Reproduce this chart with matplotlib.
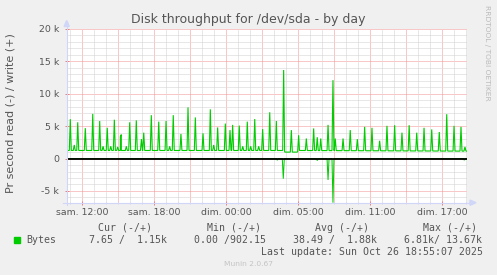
import numpy as np
import matplotlib
matplotlib.use("Agg")
import matplotlib.pyplot as plt
from matplotlib.lines import Line2D
from matplotlib.patches import Polygon, Rectangle

plt.rcParams["lines.scale_dashes"] = False

# ---------------- data (hours of real elapsed time from Saturday 00:00) -------------
write_peak_h = [11.00, 11.33, 11.62, 12.25, 12.87, 13.45, 13.73, 14.08, 14.37, 14.67,
                14.95, 15.17, 15.25, 15.67, 15.95, 16.50, 16.93, 17.12, 17.75, 18.37,
                18.98, 19.28, 19.58, 20.22, 20.81, 21.42, 22.06, 22.67, 22.95, 23.28,
                23.92, 24.31, 24.53, 25.08, 25.37, 25.75, 26.03, 26.37, 26.70, 27.03,
                27.62, 28.17, 28.78, 29.42, 30.03, 30.67, 31.28, 31.58, 31.87, 32.48,
                32.89, 33.08, 33.73, 34.33, 34.92, 35.53, 36.14, 36.78, 37.39, 38.03,
                38.64, 39.24, 39.87, 40.48, 41.12, 41.75, 42.37, 42.98, 43.56, 43.89]
write_peak_v = [6080, 2100, 5600, 4700, 6900, 5800, 1900, 4750, 1900, 6000,
                1800, 3400, 3700, 1900, 5600, 5900, 3000, 4000, 6700, 5700,
                5800, 1900, 6700, 3800, 7900, 6350, 3900, 7600, 2100, 4800,
                5400, 4400, 5200, 5100, 1900, 5700, 1900, 6100, 1900, 4550,
                7150, 5800, 13670, 4400, 3600, 3100, 4650, 3300, 3100, 5200,
                12100, 3100, 3100, 4400, 3000, 4900, 4750, 2750, 5050, 5150,
                4000, 5150, 4000, 4750, 4500, 4100, 6850, 5050, 4900, 1800]
write_base_h = [10.70, 28.70, 28.90, 29.90, 30.10, 44.06]
write_base_v = [1250, 1250, 1000, 1000, 1250, 1150]

read_peak_h = [28.25, 28.75, 31.58, 32.48, 32.89, 43.83]
read_peak_v = [250, 3100, 300, 3300, 6810, 250]

x_label_h = [12, 18, 24, 30, 36, 42]
x_labels = ["sam. 12:00", "sam. 18:00", "dim. 00:00", "dim. 05:00", "dim. 11:00", "dim. 17:00"]
y_ticks = [-5000, 0, 5000, 10000, 15000, 20000]
y_labels = ["-5 k", "0", "5 k", "10 k", "15 k", "20 k"]

T0, T1 = 10.70, 44.06
YMIN, YMAX = -6810, 20000

# ---------------- figure ----------------
W, H = 497, 275
fig = plt.figure(figsize=(W / 100, H / 100), dpi=100, facecolor="#F0F0F0")
L, R, TOP, BOT = 66.7, 467.0, 29.0, 202.7
ax = fig.add_axes([L / W, 1 - BOT / H, (R - L) / W, (BOT - TOP) / H])
ax.set_facecolor("white")
ax.set_xlim(T0, T1)
ax.set_ylim(YMIN, YMAX)

minor_c = "#D0D0D0"
major_c = "#F29090"
dots = (0, (0.72, 0.72))
for h in np.arange(11, 45):
    ax.axvline(h, color=minor_c, lw=0.72, ls=dots, zorder=0)
for v in np.arange(-6000, 20001, 1000):
    ax.axhline(v, color=minor_c, lw=0.72, ls=dots, zorder=0)
for h in np.arange(12, 45, 3):
    ax.axvline(h, color="white", lw=0.9, zorder=0.4)
    ax.axvline(h, color=major_c, lw=0.72, ls=dots, zorder=0.5)
for v in y_ticks:
    ax.axhline(v, color="white", lw=0.9, zorder=0.4)
    ax.axhline(v, color=major_c, lw=0.72, ls=dots, zorder=0.5)


def build(base_h, base_v, peak_h, peak_v, sign=1):
    dt = 1 / 12
    pts = list(zip(base_h, base_v))
    for h, v in zip(peak_h, peak_v):
        for hh in (h - dt, h + dt):
            pts.append((hh, float(np.interp(hh, base_h, base_v))))
        pts.append((h, v))
    pts.sort()
    t = np.array([p[0] for p in pts])
    y = np.array([p[1] for p in pts]) * sign
    return t, y


green = "#00CC00"
tr, yr = build([T0, T1], [0, 0], read_peak_h, read_peak_v, sign=-1)
ax.plot(tr, yr, color=green, lw=0.72, zorder=3, solid_joinstyle="miter")
ax.axhline(0, color="black", lw=1.3, zorder=4)
tw, yw = build(write_base_h, write_base_v, write_peak_h, write_peak_v)
ax.plot(tw, yw, color=green, lw=0.8, zorder=5, solid_joinstyle="miter")

for s in ax.spines.values():
    s.set_visible(False)

txt = "#555555"
ax.set_xticks(x_label_h)
ax.set_xticklabels(x_labels, fontsize=6.75, color=txt)
ax.set_xticks(np.arange(11, 45), minor=True)
ax.tick_params(axis="x", which="major", length=2.5, width=0.72, color="#E88080",
               direction="inout", pad=2.6)
ax.tick_params(axis="x", which="minor", length=2.0, width=0.72, color="#CFD6F8",
               direction="inout")
ax.set_yticks(y_ticks)
ax.set_yticklabels(y_labels, fontsize=6.75, color=txt)
ax.tick_params(axis="y", which="major", length=2.5, width=0.72, color="#E88080",
               direction="inout", pad=4.2)

# axes lines with arrows (rrdtool style)
axc = "#CFD6F8"
fig.add_artist(Line2D([L / W, L / W], [1 - 205 / H, 1 - 22 / H], color=axc, lw=0.8))
fig.add_artist(Line2D([63 / W, 472 / W], [1 - BOT / H, 1 - BOT / H], color=axc, lw=0.8))
fig.add_artist(Polygon([[(L - 2.6) / W, 1 - 26.5 / H], [(L + 2.6) / W, 1 - 26.5 / H],
                        [L / W, 1 - 20.5 / H]], closed=True, color=axc, transform=fig.transFigure))
fig.add_artist(Polygon([[470 / W, 1 - (BOT - 2.6) / H], [470 / W, 1 - (BOT + 2.6) / H],
                        [476 / W, 1 - BOT / H]], closed=True, color=axc, transform=fig.transFigure))

# titles
fig.text(248 / W, 1 - 19 / H, "Disk throughput for /dev/sda - by day", ha="center",
         va="center", fontsize=9, color=txt)
fig.text(11 / W, 1 - 113.5 / H, "Pr second read (-) / write (+)", rotation=90,
         ha="center", va="center", fontsize=8, color=txt)
fig.text(487.5 / W, 1 - 53 / H, "RRDTOOL / TOBI OETIKER", rotation=270, ha="center",
         va="center", fontsize=5.4, color="#BBBBBB")

# legend
mono = dict(family="DejaVu Sans Mono", fontsize=7.1, color=txt, va="center", ha="left")
row1, row2, row3 = 227.7, 239.7, 251.7
for x, s in [(98, "Cur (-/+)"), (207, "Min (-/+)"), (315, "Avg (-/+)"), (423, "Max (-/+)")]:
    fig.text(x / W, 1 - row1 / H, s, **mono)
fig.patches.append(Rectangle((14 / W, 1 - 242.7 / H), 5.6 / W, 5.4 / H, color=green,
                             transform=fig.transFigure, figure=fig))
fig.text(26 / W, 1 - row2 / H, "Bytes", **mono)
for x, s in [(89, "7.65 /  1.15k"), (194, "0.00 /902.15"), (293, "38.49 /  1.88k"),
             (404, "6.81k/ 13.67k")]:
    fig.text(x / W, 1 - row2 / H, s, **mono)
fig.text(483 / W, 1 - row3 / H, "Last update: Sun Oct 26 18:55:07 2025",
         **{**mono, "ha": "right"})
fig.text(248 / W, 1 - 263.7 / H, "Munin 2.0.67", ha="center", va="center",
         fontsize=5.4, color="#C4C4C4")

fig.savefig("out.png", dpi=100, facecolor=fig.get_facecolor())
